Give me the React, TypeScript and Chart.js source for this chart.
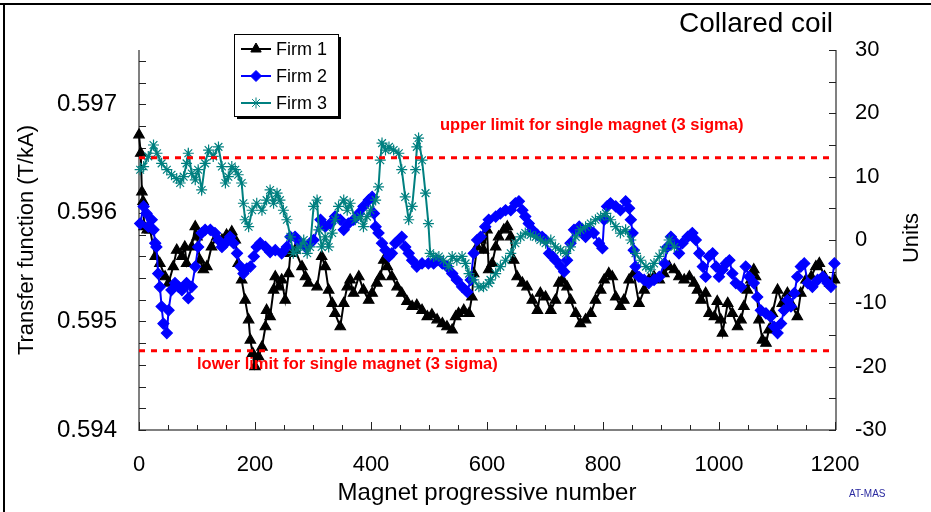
import React, { useEffect, useRef } from 'react';
import { Chart, registerables } from 'chart.js';

Chart.register(...registerables);

// ---- axis ticks ----
const xTicks = [0, 200, 400, 600, 800, 1000, 1200];
const leftTicks = [0.594, 0.595, 0.596, 0.597];
const rightTicks = [-30, -20, -10, 0, 10, 20, 30];

// ---- limits (Units) ----
const upperLimit = 13.0;
const lowerLimit = -17.5;

// ---- series: [magnet number, deviation in Units] ----
const firm1: [number, number][] = [
  [0, 16.6], [3, 13.7], [5, 7.6], [7, 6.1], [9, 2.1], [14, 1.6], [19, 1.6], [28, -2.6], [36, -3.7], [45, -5.8],
  [51, -6.8], [59, -4.2], [65, -1.6], [74, -2.6], [79, -1.1], [82, -3.7], [91, -1.1], [97, 2.1], [100, 0.5], [105, -3.2],
  [111, -4.7], [117, -4.2], [125, -1.1], [134, 0.5], [143, 0], [151, 0.8], [160, 1.3], [166, 0], [171, -3.7], [177, -6.3],
  [183, -9.5], [189, -12.6], [192, -15.8], [196, -17.9], [200, -20.0], [206, -18.4], [212, -16.9], [218, -13.7], [220, -11.1], [226, -12.1],
  [232, -7.9], [235, -5.8], [241, -7.4], [246, -6.3], [252, -9.5], [258, -5.3], [261, -2.1], [269, -1.6], [281, -4.2], [287, -5.8],
  [292, -6.8], [307, -7.4], [315, -2.6], [321, -4.2], [327, -7.9], [333, -10.0], [338, -11.6], [347, -13.7], [353, -10.0], [359, -7.4],
  [364, -6.3], [370, -8.4], [379, -5.8], [387, -7.9], [396, -9.5], [402, -8.4], [410, -6.8], [416, -5.8], [422, -3.2], [428, -4.2],
  [436, -5.8], [445, -7.4], [453, -8.4], [462, -9.7], [471, -10.5], [479, -10.3], [488, -11.1], [497, -12.1], [505, -11.8], [514, -12.6],
  [523, -13.2], [531, -13.7], [540, -14.2], [546, -12.1], [551, -11.6], [560, -11.1], [569, -11.6], [574, -9.0], [577, -5.3], [583, -1.1],
  [589, 0], [594, -1.6], [600, 1.6], [603, -4.7], [609, -3.7], [615, -1.1], [620, 0.5], [629, 1.6], [635, 2.1], [641, 0.5],
  [646, -3.2], [652, -5.8], [661, -6.8], [669, -7.4], [678, -9.5], [687, -11.1], [692, -8.4], [701, -9.0], [710, -11.1], [718, -9.5],
  [724, -6.8], [730, -6.3], [738, -7.4], [744, -9.5], [753, -11.6], [761, -13.2], [770, -12.6], [779, -11.6], [787, -9.5], [796, -7.9],
  [802, -6.3], [810, -5.3], [816, -5.8], [822, -9.0], [830, -10.5], [836, -9.5], [845, -6.3], [853, -5.3], [862, -10.0], [871, -7.9],
  [879, -6.3], [888, -5.8], [897, -6.3], [905, -5.3], [914, -4.2], [923, -4.7], [931, -5.8], [940, -6.3], [949, -5.8], [957, -6.8],
  [963, -7.9], [969, -9.5], [977, -8.4], [983, -11.6], [992, -12.1], [997, -9.7], [1003, -12.6], [1006, -14.7], [1015, -10.0], [1023, -11.6],
  [1032, -13.7], [1038, -12.6], [1043, -10.5], [1049, -7.9], [1055, -6.3], [1060, -4.7], [1063, -5.8], [1069, -12.6], [1075, -15.8], [1081, -16.3],
  [1086, -14.2], [1092, -11.6], [1101, -7.9], [1109, -10.0], [1118, -8.4], [1127, -10.5], [1135, -12.1], [1141, -8.4], [1150, -6.3], [1159, -5.8],
  [1167, -4.2], [1173, -3.7], [1182, -5.8], [1191, -6.8], [1199, -6.3],
];

const firm2: [number, number][] = [
  [2, 2.6], [8, 5.3], [13, 4.2], [16, 2.1], [22, 3.2], [25, 1.6], [28, -0.5], [30, -1.1], [33, -5.3], [36, -7.4],
  [39, -10.5], [42, -13.2], [48, -14.7], [51, -11.1], [56, -7.9], [62, -6.8], [68, -7.4], [74, -7.9], [82, -6.8], [85, -9.2],
  [91, -7.4], [97, -4.2], [102, -1.1], [108, 1.1], [114, 1.6], [123, 1.6], [131, 1.1], [137, 0], [143, -1.1], [149, -0.5],
  [157, 0.5], [163, -0.5], [169, -2.1], [175, -4.2], [180, -5.3], [186, -4.5], [192, -4.2], [198, -2.6], [203, -1.1], [209, -0.5],
  [218, -1.1], [226, -1.9], [235, -1.6], [246, -2.1], [255, -1.1], [261, 0.5], [269, 0.5], [278, -0.5], [287, -1.1], [295, -0.5],
  [301, 0], [313, 3.2], [321, 2.1], [330, 2.6], [338, 3.7], [347, 3.2], [353, 1.6], [361, 2.6], [370, 3.2], [379, 4.2],
  [387, 5.3], [396, 6.3], [402, 6.8], [405, 4.2], [408, 2.1], [413, 1.1], [419, -0.5], [425, -1.6], [431, -2.6], [436, -2.1],
  [442, -0.5], [448, 0], [453, 0.5], [459, -1.1], [465, -2.1], [471, -3.2], [479, -4.2], [488, -3.7], [499, -3.7], [508, -3.7],
  [514, -3.2], [523, -3.7], [531, -4.2], [540, -5.3], [548, -6.3], [557, -7.4], [566, -8.2], [572, -6.3], [577, -2.1], [583, 0],
  [589, 0.5], [597, 2.1], [603, 3.2], [615, 3.7], [623, 4.2], [632, 4.7], [641, 4.7], [649, 5.8], [655, 6.1], [661, 4.7],
  [666, 3.7], [672, 2.6], [678, 1.6], [687, 0.8], [695, 0.5], [701, 0], [707, -2.1], [713, -2.6], [718, -3.2], [727, -4.2],
  [733, -5.0], [738, -3.2], [744, -0.5], [750, 1.6], [759, 2.1], [764, 1.1], [770, 0.5], [776, 1.6], [784, 1.1], [793, -0.5],
  [799, -1.3], [802, 3.2], [807, 5.3], [813, 5.8], [822, 5.3], [830, 4.7], [839, 6.1], [845, 5.0], [848, 3.2], [851, 1.1],
  [853, -1.6], [856, -4.2], [862, -5.8], [871, -6.3], [879, -6.8], [888, -6.3], [897, -5.8], [906, -3.7], [911, -1.1], [917, 0.5],
  [926, -0.5], [931, -2.1], [937, -0.5], [946, 0.5], [954, 1.1], [960, 0], [966, -2.1], [972, -4.2], [977, -5.8], [983, -2.6],
  [989, -2.1], [995, -4.2], [1000, -5.8], [1006, -4.7], [1012, -3.7], [1018, -3.2], [1023, -5.3], [1029, -6.8], [1038, -7.4], [1046, -4.2],
  [1052, -5.8], [1060, -6.8], [1066, -9.0], [1072, -11.1], [1081, -11.6], [1089, -12.1], [1095, -13.7], [1101, -14.7], [1107, -13.2], [1112, -11.1],
  [1118, -9.5], [1124, -10.5], [1130, -8.4], [1135, -5.8], [1141, -4.2], [1147, -3.7], [1153, -6.8], [1161, -7.4], [1170, -6.3], [1179, -5.8],
  [1187, -6.8], [1193, -7.4], [1199, -3.7],
];

const firm3: [number, number][] = [
  [2, 11.1], [8, 11.6], [16, 13.2], [25, 15.0], [31, 13.7], [39, 12.1], [48, 11.1], [56, 10.3], [65, 9.7], [71, 9.0],
  [77, 10.0], [82, 12.1], [85, 13.7], [91, 10.5], [97, 9.5], [102, 11.1], [108, 7.9], [114, 12.1], [120, 14.2], [128, 13.2],
  [137, 14.7], [143, 11.6], [149, 9.0], [154, 10.0], [160, 11.6], [166, 11.1], [171, 10.3], [177, 9.0], [180, 5.8], [183, 3.2],
  [189, 2.1], [195, 4.7], [203, 5.8], [212, 4.7], [220, 6.3], [226, 7.9], [232, 5.8], [238, 7.4], [243, 6.3], [249, 4.7],
  [255, 3.2], [261, 0.5], [266, -2.1], [272, -1.6], [278, -1.1], [284, 0], [290, -2.1], [295, -1.1], [301, 5.3], [307, 6.3],
  [310, 1.6], [315, -1.1], [321, 0.5], [327, -1.1], [333, 1.1], [338, 3.2], [344, 5.3], [353, 6.3], [359, 4.7], [364, 5.8],
  [373, 3.2], [382, 3.7], [387, 2.1], [393, 3.7], [399, 4.7], [408, 6.3], [413, 8.4], [416, 12.6], [419, 15.3], [425, 14.2],
  [431, 14.7], [439, 14.2], [448, 13.7], [453, 11.1], [459, 6.8], [465, 3.2], [471, 5.3], [477, 11.1], [479, 14.7], [482, 16.1],
  [488, 12.6], [494, 7.4], [499, 2.6], [502, -2.1], [508, -2.6], [517, -2.6], [525, -3.2], [534, -4.2], [540, -2.6], [548, -3.2],
  [557, -2.6], [563, -3.7], [569, -5.3], [577, -6.3], [586, -7.4], [594, -7.4], [603, -6.8], [606, -6.3], [615, -5.3], [623, -4.2],
  [632, -3.2], [641, -2.1], [649, -0.5], [658, 0.5], [666, 1.1], [675, 0.8], [684, 0.5], [692, 0], [701, -0.5], [710, 0],
  [718, -1.1], [727, -1.6], [736, -2.1], [744, -1.1], [753, 0.5], [761, 1.6], [770, 2.1], [779, 2.6], [787, 3.2], [796, 3.7],
  [805, 4.2], [813, 3.2], [822, 2.1], [830, 1.1], [839, 1.6], [848, 0], [856, -2.1], [865, -3.2], [874, -4.2], [882, -4.7],
  [888, -3.7], [897, -2.6], [905, -1.6], [914, 0], [923, -1.1],
];

const seriesNames = ['Firm 1', 'Firm 2', 'Firm 3'];
const seriesColors = ['#000000', '#0000ff', '#008080'];
const seriesMarkers = ['triangle', 'rectRot', 'star'];
const seriesRadius = [6, 5.5, 5.5];

const FONT = "'Liberation Sans', Arial, Helvetica, sans-serif";

function drawMarker(ctx: CanvasRenderingContext2D, kind: string, x: number, y: number, r: number, color: string) {
  ctx.save();
  ctx.fillStyle = color;
  ctx.strokeStyle = color;
  ctx.lineWidth = 1;
  ctx.beginPath();
  if (kind === 'triangle') {
    for (let i = 0; i < 3; i++) {
      const a = (i * 2 * Math.PI) / 3;
      const px = x + Math.sin(a) * r;
      const py = y - Math.cos(a) * r;
      if (i === 0) ctx.moveTo(px, py);
      else ctx.lineTo(px, py);
    }
    ctx.closePath();
    ctx.fill();
    ctx.stroke();
  } else if (kind === 'rectRot') {
    ctx.moveTo(x, y - r);
    ctx.lineTo(x + r, y);
    ctx.lineTo(x, y + r);
    ctx.lineTo(x - r, y);
    ctx.closePath();
    ctx.fill();
    ctx.stroke();
  } else {
    for (let i = 0; i < 4; i++) {
      const a = (i * Math.PI) / 4;
      ctx.moveTo(x - Math.cos(a) * r, y - Math.sin(a) * r);
      ctx.lineTo(x + Math.cos(a) * r, y + Math.sin(a) * r);
    }
    ctx.stroke();
  }
  ctx.restore();
}

const decor = {
  id: 'decor',
  beforeDatasetsDraw(chart: any) {
    const ctx: CanvasRenderingContext2D = chart.ctx;
    const ca = chart.chartArea;
    const { x, yL, yR } = chart.scales;
    ctx.save();
    // axis lines
    ctx.strokeStyle = '#808080';
    ctx.lineWidth = 2;
    ctx.beginPath();
    ctx.moveTo(ca.left, ca.top);
    ctx.lineTo(ca.left, ca.bottom);
    ctx.lineTo(ca.right + 1, ca.bottom);
    ctx.moveTo(ca.right + 1, ca.top);
    ctx.lineTo(ca.right + 1, ca.bottom);
    ctx.stroke();
    // inward tick marks
    ctx.strokeStyle = '#222';
    ctx.lineWidth = 1;
    ctx.beginPath();
    for (let i = 0; i <= 17; i++) {
      const py = Math.round(yL.getPixelForValue(0.594 + i * 0.0002)) + 0.5;
      ctx.moveTo(ca.left, py);
      ctx.lineTo(ca.left + 7, py);
    }
    for (let v = -30; v <= 30; v += 5) {
      const py = Math.round(yR.getPixelForValue(v)) + 0.5;
      ctx.moveTo(ca.right + 1, py);
      ctx.lineTo(ca.right - 6, py);
    }
    for (let v = 0; v <= 1200; v += 50) {
      const px = Math.round(x.getPixelForValue(v)) + 0.5;
      const len = v % 200 === 0 ? 8 : 5;
      ctx.moveTo(px, ca.bottom);
      ctx.lineTo(px, ca.bottom - len);
    }
    ctx.stroke();
    ctx.restore();
  },
  afterDraw(chart: any) {
    const ctx: CanvasRenderingContext2D = chart.ctx;
    const ca = chart.chartArea;
    ctx.save();
    // outer frame (top & left)
    ctx.strokeStyle = '#000';
    ctx.lineWidth = 2;
    ctx.beginPath();
    ctx.moveTo(0, 4);
    ctx.lineTo(931, 4);
    ctx.moveTo(4, 4);
    ctx.lineTo(4, 512);
    ctx.stroke();

    // title
    ctx.fillStyle = '#000';
    ctx.font = `28px ${FONT}`;
    ctx.textAlign = 'left';
    ctx.textBaseline = 'alphabetic';
    ctx.fillText('Collared coil', 679, 32);

    // right axis title
    ctx.save();
    ctx.translate(912, (ca.top + ca.bottom) / 2 - 2);
    ctx.rotate(-Math.PI / 2);
    ctx.font = `22px ${FONT}`;
    ctx.textAlign = 'center';
    ctx.textBaseline = 'middle';
    ctx.fillText('Units', 0, 0);
    ctx.restore();

    // limit labels
    ctx.fillStyle = '#ff0000';
    ctx.font = `bold 16.5px ${FONT}`;
    ctx.textAlign = 'left';
    ctx.fillText('upper limit for single magnet (3 sigma)', 440, 130);
    ctx.fillText('lower limit for single magnet (3 sigma)', 197, 369);

    // AT-MAS
    ctx.fillStyle = '#2a2aa0';
    ctx.font = `10px ${FONT}`;
    ctx.fillText('AT-MAS', 849, 497);

    // legend
    const bx = 234, by = 34, bw = 104, bh = 82;
    ctx.fillStyle = '#000';
    ctx.fillRect(bx + 3, by + 3, bw, bh);
    ctx.fillStyle = '#fff';
    ctx.fillRect(bx, by, bw, bh);
    ctx.strokeStyle = '#000';
    ctx.lineWidth = 1;
    ctx.strokeRect(bx + 0.5, by + 0.5, bw, bh);
    const rows = [49, 76, 103];
    ctx.font = `18px ${FONT}`;
    ctx.textBaseline = 'middle';
    for (let i = 0; i < 3; i++) {
      ctx.strokeStyle = seriesColors[i];
      ctx.lineWidth = 2;
      ctx.beginPath();
      ctx.moveTo(241, rows[i]);
      ctx.lineTo(271, rows[i]);
      ctx.stroke();
      drawMarker(ctx, seriesMarkers[i], 256, rows[i], seriesRadius[i], seriesColors[i]);
      ctx.fillStyle = '#000';
      ctx.fillText(seriesNames[i], 276, rows[i] + 1);
    }
    ctx.restore();
  },
};

export default function App() {
  const ref = useRef<HTMLCanvasElement>(null);
  useEffect(() => {
    document.body.style.margin = '0';
    const toPts = (a: [number, number][]) => a.map(([x, y]) => ({ x, y }));
    const firmData = [firm1, firm2, firm3];
    const firmSets = [2, 1, 0].map((i) => ({
      label: seriesNames[i],
      data: toPts(firmData[i]),
      yAxisID: 'yR',
      showLine: true,
      borderColor: seriesColors[i],
      backgroundColor: seriesColors[i],
      borderWidth: 2,
      pointStyle: seriesMarkers[i],
      pointRadius: seriesRadius[i],
      pointBorderWidth: 1.2,
      pointBorderColor: seriesColors[i],
      pointBackgroundColor: seriesColors[i],
      clip: false as any,
    }));
    const limitSet = (v: number, label: string) => ({
      label,
      data: [
        { x: 0, y: v },
        { x: 1200, y: v },
      ],
      yAxisID: 'yR',
      showLine: true,
      borderColor: '#ff0000',
      borderWidth: 3,
      borderDash: [6, 6],
      pointRadius: 0,
      clip: false as any,
    });
    const chart = new Chart(ref.current as HTMLCanvasElement, {
      type: 'scatter',
      data: {
        datasets: [limitSet(upperLimit, 'upper limit'), limitSet(lowerLimit, 'lower limit'), ...firmSets] as any,
      },
      options: {
        responsive: false,
        animation: false,
        events: [],
        layout: { padding: { top: 50, left: 0, right: 0, bottom: 0 } },
        plugins: { legend: { display: false }, tooltip: { enabled: false } },
        scales: {
          x: {
            type: 'linear',
            position: 'bottom',
            min: 0,
            max: 1200,
            grid: { display: false, drawTicks: false },
            border: { display: false },
            afterBuildTicks: (s: any) => {
              s.ticks = xTicks.map((v) => ({ value: v }));
            },
            ticks: {
              color: '#000',
              font: { family: FONT, size: 22 },
              padding: 22,
              maxRotation: 0,
              callback: (v: any) => String(v),
            },
            title: {
              display: true,
              text: 'Magnet progressive number',
              color: '#000',
              font: { family: FONT, size: 24 },
              padding: { top: 0, bottom: 4 },
            },
            afterFit: (s: any) => {
              s.height = 82;
            },
          },
          yL: {
            type: 'linear',
            position: 'left',
            min: 0.594,
            max: 0.5975,
            grid: { display: false, drawTicks: false },
            border: { display: false },
            afterBuildTicks: (s: any) => {
              s.ticks = leftTicks.map((v) => ({ value: v }));
            },
            ticks: {
              color: '#000',
              font: { family: FONT, size: 24 },
              padding: 22,
              callback: (v: any) => Number(v).toFixed(3),
            },
            title: {
              display: true,
              text: 'Transfer function (T/kA)',
              color: '#000',
              font: { family: FONT, size: 22 },
              padding: { top: 14, bottom: 0 },
            },
            afterFit: (s: any) => {
              s.width = 139;
            },
          },
          yR: {
            type: 'linear',
            position: 'right',
            min: -30,
            max: 30,
            grid: { display: false, drawTicks: false },
            border: { display: false },
            afterBuildTicks: (s: any) => {
              s.ticks = rightTicks.map((v) => ({ value: v }));
            },
            ticks: { color: '#000', font: { family: FONT, size: 22 }, padding: 20 },
            afterFit: (s: any) => {
              s.width = 96;
            },
          },
        },
      },
      plugins: [decor],
    });
    return () => chart.destroy();
  }, []);
  return (
    <div style={{ width: 931, height: 512, background: '#fff' }}>
      <canvas ref={ref} width={931} height={512} style={{ display: 'block', width: 931, height: 512 }} />
    </div>
  );
}
